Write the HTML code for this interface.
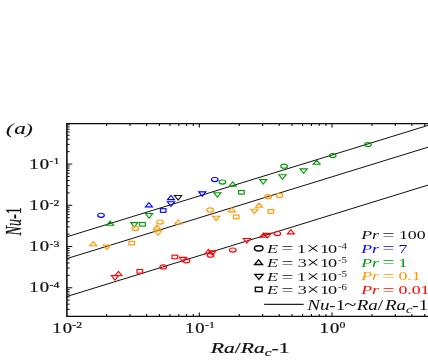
<!DOCTYPE html>
<html><head><meta charset="utf-8"><style>
html,body{margin:0;padding:0;background:#fff;}
body{width:428px;height:360px;overflow:hidden;}
svg{display:block;font-family:"Liberation Serif",serif;}
</style></head><body>
<svg width="428" height="360" viewBox="0 0 428 360">
<defs><filter id="bl" x="0" y="0" width="428" height="360" filterUnits="userSpaceOnUse"><feGaussianBlur stdDeviation="0.25"/></filter></defs>
<rect width="428" height="360" fill="#fff"/>
<g filter="url(#bl)">
<line x1="66.9" y1="236.8" x2="430" y2="124.78" stroke="#111" stroke-width="1.0"/>
<line x1="66.9" y1="258.6" x2="430" y2="146.58" stroke="#111" stroke-width="1.0"/>
<line x1="66.9" y1="296.5" x2="430" y2="184.48" stroke="#111" stroke-width="1.0"/>
<ellipse cx="101.0" cy="215.3" rx="3.30" ry="2.05" fill="none" stroke="#0000ff" stroke-width="1.15"/>
<path d="M106.65 225.30 L113.65 225.30 L110.15 221.05 Z" fill="none" stroke="#009900" stroke-width="1.1" stroke-linejoin="miter"/>
<path d="M89.85 245.80 L96.85 245.80 L93.35 241.55 Z" fill="none" stroke="#ff9900" stroke-width="1.1" stroke-linejoin="miter"/>
<path d="M103.40 245.00 L110.60 245.00 L107.00 249.50 Z" fill="none" stroke="#ff9900" stroke-width="1.1" stroke-linejoin="miter"/>
<path d="M130.70 222.60 L137.90 222.60 L134.30 227.10 Z" fill="none" stroke="#009900" stroke-width="1.1" stroke-linejoin="miter"/>
<rect x="139.70" y="222.50" width="5.60" height="3.60" fill="none" stroke="#009900" stroke-width="1.15"/>
<ellipse cx="135.3" cy="228.4" rx="3.30" ry="2.05" fill="none" stroke="#ff9900" stroke-width="1.15"/>
<rect x="128.90" y="241.30" width="5.60" height="3.60" fill="none" stroke="#ff9900" stroke-width="1.15"/>
<path d="M145.45 206.90 L152.45 206.90 L148.95 202.65 Z" fill="none" stroke="#0000ff" stroke-width="1.1" stroke-linejoin="miter"/>
<path d="M145.50 213.50 L152.70 213.50 L149.10 218.00 Z" fill="none" stroke="#009900" stroke-width="1.1" stroke-linejoin="miter"/>
<rect x="160.40" y="208.70" width="5.60" height="3.60" fill="none" stroke="#0000ff" stroke-width="1.15"/>
<ellipse cx="160.0" cy="222.0" rx="3.30" ry="2.05" fill="none" stroke="#ff9900" stroke-width="1.15"/>
<path d="M153.35 229.30 L160.35 229.30 L156.85 225.05 Z" fill="none" stroke="#ff9900" stroke-width="1.1" stroke-linejoin="miter"/>
<path d="M154.40 230.80 L161.60 230.80 L158.00 235.30 Z" fill="none" stroke="#ff9900" stroke-width="1.1" stroke-linejoin="miter"/>
<path d="M167.45 199.60 L174.45 199.60 L170.95 195.35 Z" fill="none" stroke="#0000ff" stroke-width="1.1" stroke-linejoin="miter"/>
<path d="M167.40 201.80 L174.60 201.80 L171.00 206.30 Z" fill="none" stroke="#0000ff" stroke-width="1.1" stroke-linejoin="miter"/>
<path d="M174.50 195.50 L181.70 195.50 L178.10 200.00 Z" fill="none" stroke="#111" stroke-width="1.1" stroke-linejoin="miter"/>
<path d="M198.70 191.90 L205.90 191.90 L202.30 196.40 Z" fill="none" stroke="#0000ff" stroke-width="1.1" stroke-linejoin="miter"/>
<path d="M174.75 224.00 L181.75 224.00 L178.25 219.75 Z" fill="none" stroke="#ff9900" stroke-width="1.1" stroke-linejoin="miter"/>
<ellipse cx="210.2" cy="209.9" rx="3.30" ry="2.05" fill="none" stroke="#ff9900" stroke-width="1.15"/>
<ellipse cx="214.8" cy="179.5" rx="3.30" ry="2.05" fill="none" stroke="#0000ff" stroke-width="1.15"/>
<ellipse cx="222.4" cy="182.0" rx="3.30" ry="2.05" fill="none" stroke="#009900" stroke-width="1.15"/>
<path d="M229.15 186.20 L236.15 186.20 L232.65 181.95 Z" fill="none" stroke="#009900" stroke-width="1.1" stroke-linejoin="miter"/>
<path d="M213.80 192.70 L221.00 192.70 L217.40 197.20 Z" fill="none" stroke="#009900" stroke-width="1.1" stroke-linejoin="miter"/>
<rect x="238.60" y="190.50" width="5.60" height="3.60" fill="none" stroke="#009900" stroke-width="1.15"/>
<path d="M259.60 179.60 L266.80 179.60 L263.20 184.10 Z" fill="none" stroke="#009900" stroke-width="1.1" stroke-linejoin="miter"/>
<path d="M228.35 211.90 L235.35 211.90 L231.85 207.65 Z" fill="none" stroke="#ff9900" stroke-width="1.1" stroke-linejoin="miter"/>
<path d="M212.60 216.20 L219.80 216.20 L216.20 220.70 Z" fill="none" stroke="#ff9900" stroke-width="1.1" stroke-linejoin="miter"/>
<rect x="233.40" y="215.10" width="5.60" height="3.60" fill="none" stroke="#ff9900" stroke-width="1.15"/>
<path d="M255.55 207.30 L262.55 207.30 L259.05 203.05 Z" fill="none" stroke="#ff9900" stroke-width="1.1" stroke-linejoin="miter"/>
<path d="M250.80 209.20 L258.00 209.20 L254.40 213.70 Z" fill="none" stroke="#ff9900" stroke-width="1.1" stroke-linejoin="miter"/>
<ellipse cx="268.1" cy="196.7" rx="3.30" ry="2.05" fill="none" stroke="#ff9900" stroke-width="1.15"/>
<rect x="268.10" y="209.60" width="5.60" height="3.60" fill="none" stroke="#ff9900" stroke-width="1.15"/>
<ellipse cx="279.5" cy="195.4" rx="3.30" ry="2.05" fill="none" stroke="#ff9900" stroke-width="1.15"/>
<path d="M278.90 174.80 L286.10 174.80 L282.50 179.30 Z" fill="none" stroke="#009900" stroke-width="1.1" stroke-linejoin="miter"/>
<ellipse cx="284.1" cy="166.2" rx="3.30" ry="2.05" fill="none" stroke="#009900" stroke-width="1.15"/>
<path d="M300.10 168.90 L307.30 168.90 L303.70 173.40 Z" fill="none" stroke="#009900" stroke-width="1.1" stroke-linejoin="miter"/>
<path d="M313.15 164.30 L320.15 164.30 L316.65 160.05 Z" fill="none" stroke="#009900" stroke-width="1.1" stroke-linejoin="miter"/>
<ellipse cx="332.7" cy="155.5" rx="3.30" ry="2.05" fill="none" stroke="#009900" stroke-width="1.15"/>
<ellipse cx="368.0" cy="144.6" rx="3.30" ry="2.05" fill="none" stroke="#009900" stroke-width="1.15"/>
<path d="M114.95 275.70 L121.95 275.70 L118.45 271.45 Z" fill="none" stroke="#ff0000" stroke-width="1.1" stroke-linejoin="miter"/>
<path d="M111.30 275.50 L118.50 275.50 L114.90 280.00 Z" fill="none" stroke="#ff0000" stroke-width="1.1" stroke-linejoin="miter"/>
<rect x="137.00" y="269.50" width="5.60" height="3.60" fill="none" stroke="#ff0000" stroke-width="1.15"/>
<ellipse cx="163.2" cy="266.9" rx="3.30" ry="2.05" fill="none" stroke="#ff0000" stroke-width="1.15"/>
<rect x="172.00" y="255.20" width="5.60" height="3.60" fill="none" stroke="#ff0000" stroke-width="1.15"/>
<path d="M179.30 257.40 L186.50 257.40 L182.90 261.90 Z" fill="none" stroke="#ff0000" stroke-width="1.1" stroke-linejoin="miter"/>
<ellipse cx="186.6" cy="260.8" rx="3.30" ry="2.05" fill="none" stroke="#ff0000" stroke-width="1.15"/>
<path d="M204.95 253.70 L211.95 253.70 L208.45 249.45 Z" fill="none" stroke="#ff0000" stroke-width="1.1" stroke-linejoin="miter"/>
<path d="M208.90 250.70 L216.10 250.70 L212.50 255.20 Z" fill="none" stroke="#ff0000" stroke-width="1.1" stroke-linejoin="miter"/>
<ellipse cx="210.6" cy="255.2" rx="3.30" ry="2.05" fill="none" stroke="#ff0000" stroke-width="1.15"/>
<ellipse cx="232.8" cy="250.0" rx="3.30" ry="2.05" fill="none" stroke="#ff0000" stroke-width="1.15"/>
<path d="M243.20 238.50 L250.40 238.50 L246.80 243.00 Z" fill="none" stroke="#ff0000" stroke-width="1.1" stroke-linejoin="miter"/>
<path d="M259.85 237.30 L266.85 237.30 L263.35 233.05 Z" fill="none" stroke="#ff0000" stroke-width="1.1" stroke-linejoin="miter"/>
<path d="M264.10 233.40 L271.30 233.40 L267.70 237.90 Z" fill="none" stroke="#ff0000" stroke-width="1.1" stroke-linejoin="miter"/>
<ellipse cx="277.3" cy="233.5" rx="3.30" ry="2.05" fill="none" stroke="#ff0000" stroke-width="1.15"/>
<path d="M287.35 233.90 L294.35 233.90 L290.85 229.65 Z" fill="none" stroke="#ff0000" stroke-width="1.1" stroke-linejoin="miter"/>
<path d="M66.10000000000001 123.6 H430 M66.10000000000001 316.3 H430" fill="none" stroke="#111" stroke-width="1.15"/>
<path d="M66.9 123.6 V316.3" fill="none" stroke="#111" stroke-width="1.6"/>
<path d="M106.63 316.3 v-2.3 M106.63 123.6 v2.3 M129.99 316.3 v-2.3 M129.99 123.6 v2.3 M146.56 316.3 v-2.3 M146.56 123.6 v2.3 M159.42 316.3 v-2.3 M159.42 123.6 v2.3 M169.92 316.3 v-2.3 M169.92 123.6 v2.3 M178.80 316.3 v-2.3 M178.80 123.6 v2.3 M186.49 316.3 v-2.3 M186.49 123.6 v2.3 M193.28 316.3 v-2.3 M193.28 123.6 v2.3 M199.35 316.3 v-3.8 M199.35 123.6 v3.8 M239.28 316.3 v-2.3 M239.28 123.6 v2.3 M262.64 316.3 v-2.3 M262.64 123.6 v2.3 M279.21 316.3 v-2.3 M279.21 123.6 v2.3 M292.07 316.3 v-2.3 M292.07 123.6 v2.3 M302.57 316.3 v-2.3 M302.57 123.6 v2.3 M311.45 316.3 v-2.3 M311.45 123.6 v2.3 M319.14 316.3 v-2.3 M319.14 123.6 v2.3 M325.93 316.3 v-2.3 M325.93 123.6 v2.3 M332.00 316.3 v-3.8 M332.00 123.6 v3.8 M371.93 316.3 v-2.3 M371.93 123.6 v2.3 M395.29 316.3 v-2.3 M395.29 123.6 v2.3 M411.86 316.3 v-2.3 M411.86 123.6 v2.3 M424.72 316.3 v-2.3 M424.72 123.6 v2.3" fill="none" stroke="#111" stroke-width="1.1"/>
<path d="M66.9 309.32 h2.8 M66.9 304.17 h2.8 M66.9 300.17 h2.8 M66.9 296.91 h2.8 M66.9 294.15 h2.8 M66.9 291.76 h2.8 M66.9 289.65 h2.8 M66.9 287.76 h5.4 M66.9 275.35 h2.8 M66.9 268.09 h2.8 M66.9 262.94 h2.8 M66.9 258.94 h2.8 M66.9 255.68 h2.8 M66.9 252.92 h2.8 M66.9 250.53 h2.8 M66.9 248.42 h2.8 M66.9 246.53 h5.4 M66.9 234.12 h2.8 M66.9 226.86 h2.8 M66.9 221.71 h2.8 M66.9 217.71 h2.8 M66.9 214.45 h2.8 M66.9 211.69 h2.8 M66.9 209.30 h2.8 M66.9 207.19 h2.8 M66.9 205.30 h5.4 M66.9 192.89 h2.8 M66.9 185.63 h2.8 M66.9 180.48 h2.8 M66.9 176.48 h2.8 M66.9 173.22 h2.8 M66.9 170.46 h2.8 M66.9 168.07 h2.8 M66.9 165.96 h2.8 M66.9 164.07 h5.4 M66.9 151.66 h2.8 M66.9 144.40 h2.8 M66.9 139.25 h2.8 M66.9 135.25 h2.8 M66.9 131.99 h2.8 M66.9 129.23 h2.8 M66.9 126.84 h2.8 M66.9 124.73 h2.8" fill="none" stroke="#111" stroke-width="1.0"/>
<text transform="translate(59.30,168.67) scale(1.37,1)" font-size="13.6" fill="#111" stroke="#111" stroke-width="0.2" text-anchor="end"  >1<tspan dx="0.8">0</tspan><tspan font-size="8.6" dy="-4.4" dx="0.3">-1</tspan></text>
<text transform="translate(59.30,209.90) scale(1.37,1)" font-size="13.6" fill="#111" stroke="#111" stroke-width="0.2" text-anchor="end"  >1<tspan dx="0.8">0</tspan><tspan font-size="8.6" dy="-4.4" dx="0.3">-2</tspan></text>
<text transform="translate(59.30,251.13) scale(1.37,1)" font-size="13.6" fill="#111" stroke="#111" stroke-width="0.2" text-anchor="end"  >1<tspan dx="0.8">0</tspan><tspan font-size="8.6" dy="-4.4" dx="0.3">-3</tspan></text>
<text transform="translate(59.30,292.36) scale(1.37,1)" font-size="13.6" fill="#111" stroke="#111" stroke-width="0.2" text-anchor="end"  >1<tspan dx="0.8">0</tspan><tspan font-size="8.6" dy="-4.4" dx="0.3">-4</tspan></text>
<text transform="translate(67.20,332.60) scale(1.37,1)" font-size="13.6" fill="#111" stroke="#111" stroke-width="0.2" text-anchor="middle"  >1<tspan dx="0.8">0</tspan><tspan font-size="8.6" dy="-4.4" dx="0.3">-2</tspan></text>
<text transform="translate(199.85,332.60) scale(1.37,1)" font-size="13.6" fill="#111" stroke="#111" stroke-width="0.2" text-anchor="middle"  >1<tspan dx="0.8">0</tspan><tspan font-size="8.6" dy="-4.4" dx="0.3">-1</tspan></text>
<text transform="translate(332.50,332.60) scale(1.37,1)" font-size="13.6" fill="#111" stroke="#111" stroke-width="0.2" text-anchor="middle"  >1<tspan dx="0.8">0</tspan><tspan font-size="8.6" dy="-4.4" dx="0.3">0</tspan></text>
<text transform="translate(5.60,134.00) scale(1.45,1)" font-size="15" fill="#111" stroke="#111" stroke-width="0.15"><tspan x="0.21" font-style="italic">(</tspan><tspan x="6.00" font-style="italic" font-size="16">a</tspan><tspan x="13.66" font-style="italic">)</tspan></text>
<text transform="translate(21.1,235.4) rotate(-90) scale(1,1.7)" font-size="14.1" fill="#111" stroke="#111" stroke-width="0.15" font-style="italic">Nu<tspan font-style="normal">-1</tspan></text>
<text transform="translate(250.20,353.40) scale(1.44,1)" font-size="15" fill="#111" stroke="#111" stroke-width="0.2" text-anchor="middle"  ><tspan font-style="italic">Ra</tspan>/<tspan font-style="italic">Ra</tspan><tspan font-style="italic" font-size="10.5" dy="2.8">c</tspan><tspan dy="-2.8">-1</tspan></text>
<ellipse cx="258.7" cy="248.3" rx="4.29" ry="2.67" fill="none" stroke="#111" stroke-width="1.5"/>
<path d="M254.63 264.52 L262.47 264.52 L258.55 259.76 Z" fill="none" stroke="#111" stroke-width="1.4" stroke-linejoin="miter"/>
<path d="M254.87 274.38 L262.93 274.38 L258.90 279.42 Z" fill="none" stroke="#111" stroke-width="1.4" stroke-linejoin="miter"/>
<rect x="255.34" y="287.24" width="6.72" height="4.32" fill="none" stroke="#111" stroke-width="1.4"/>
<text transform="translate(267.40,252.90) scale(1.36,1)" font-size="13.4" fill="#111" stroke="#111" stroke-width="0.0"><tspan x="-0.37" font-style="italic">E</tspan><tspan x="10.37" font-size="15.5" dy="0.5">=</tspan><tspan x="21.76" dy="-0.5">1</tspan><tspan x="28.82" font-size="17" dy="0.9">×</tspan><tspan x="38.60" dy="-0.9">1</tspan><tspan x="44.56" >0</tspan><tspan x="51.91" font-size="8.0" dy="-4.3">-4</tspan></text>
<text transform="translate(267.40,267.10) scale(1.36,1)" font-size="13.4" fill="#111" stroke="#111" stroke-width="0.0"><tspan x="-0.37" font-style="italic">E</tspan><tspan x="10.37" font-size="15.5" dy="0.5">=</tspan><tspan x="22.35" dy="-0.5">3</tspan><tspan x="28.82" font-size="17" dy="0.9">×</tspan><tspan x="38.60" dy="-0.9">1</tspan><tspan x="44.56" >0</tspan><tspan x="51.91" font-size="8.0" dy="-4.3">-5</tspan></text>
<text transform="translate(267.40,281.00) scale(1.36,1)" font-size="13.4" fill="#111" stroke="#111" stroke-width="0.0"><tspan x="-0.37" font-style="italic">E</tspan><tspan x="10.37" font-size="15.5" dy="0.5">=</tspan><tspan x="21.76" dy="-0.5">1</tspan><tspan x="28.82" font-size="17" dy="0.9">×</tspan><tspan x="38.60" dy="-0.9">1</tspan><tspan x="44.56" >0</tspan><tspan x="51.91" font-size="8.0" dy="-4.3">-5</tspan></text>
<text transform="translate(267.40,294.00) scale(1.36,1)" font-size="13.4" fill="#111" stroke="#111" stroke-width="0.0"><tspan x="-0.37" font-style="italic">E</tspan><tspan x="10.37" font-size="15.5" dy="0.5">=</tspan><tspan x="22.35" dy="-0.5">3</tspan><tspan x="28.82" font-size="17" dy="0.9">×</tspan><tspan x="38.60" dy="-0.9">1</tspan><tspan x="44.56" >0</tspan><tspan x="51.91" font-size="8.0" dy="-4.3">-6</tspan></text>
<text transform="translate(361.20,239.00) scale(1.37,1)" font-size="13" fill="#111" stroke="#111" stroke-width="0.0"><tspan x="0.00" font-style="italic">Pr</tspan><tspan x="15.47" font-size="15.5" dy="0.5">=</tspan><tspan x="27.52" dy="-0.5">100</tspan></text>
<text transform="translate(361.20,252.75) scale(1.37,1)" font-size="13" fill="#0000ff" stroke="#0000ff" stroke-width="0.0"><tspan x="0.00" font-style="italic">Pr</tspan><tspan x="15.47" font-size="15.5" dy="0.5">=</tspan><tspan x="27.15" dy="-0.5">7</tspan></text>
<text transform="translate(361.20,266.50) scale(1.37,1)" font-size="13" fill="#009900" stroke="#009900" stroke-width="0.0"><tspan x="0.00" font-style="italic">Pr</tspan><tspan x="15.47" font-size="15.5" dy="0.5">=</tspan><tspan x="27.15" dy="-0.5">1</tspan></text>
<text transform="translate(361.20,280.25) scale(1.37,1)" font-size="13" fill="#ff9900" stroke="#ff9900" stroke-width="0.0"><tspan x="0.00" font-style="italic">Pr</tspan><tspan x="15.47" font-size="15.5" dy="0.5">=</tspan><tspan x="27.15" dy="-0.5">0.1</tspan></text>
<text transform="translate(361.20,294.00) scale(1.37,1)" font-size="13" fill="#ff0000" stroke="#ff0000" stroke-width="0.0"><tspan x="0.00" font-style="italic">Pr</tspan><tspan x="15.47" font-size="15.5" dy="0.5">=</tspan><tspan x="27.15" dy="-0.5">0.01</tspan></text>
<line x1="264.2" y1="304.4" x2="303.6" y2="304.4" stroke="#222" stroke-width="1.1"/>
<text transform="translate(307.00,310.00) scale(1.36,1)" font-size="14" fill="#111" stroke="#111" stroke-width="0.03"><tspan x="0.15" font-style="italic">Nu</tspan><tspan x="16.40" >-1</tspan><tspan x="27.35" font-size="16.5" dy="0.3">~</tspan><tspan x="36.54" font-style="italic" dy="-0.3">Ra</tspan><tspan >/</tspan><tspan x="57.28" font-style="italic">Ra</tspan><tspan font-style="italic" font-size="10.5" dy="2.5">c</tspan><tspan dy="-2.5">-1</tspan></text>
</g>
</svg>
</body></html>
